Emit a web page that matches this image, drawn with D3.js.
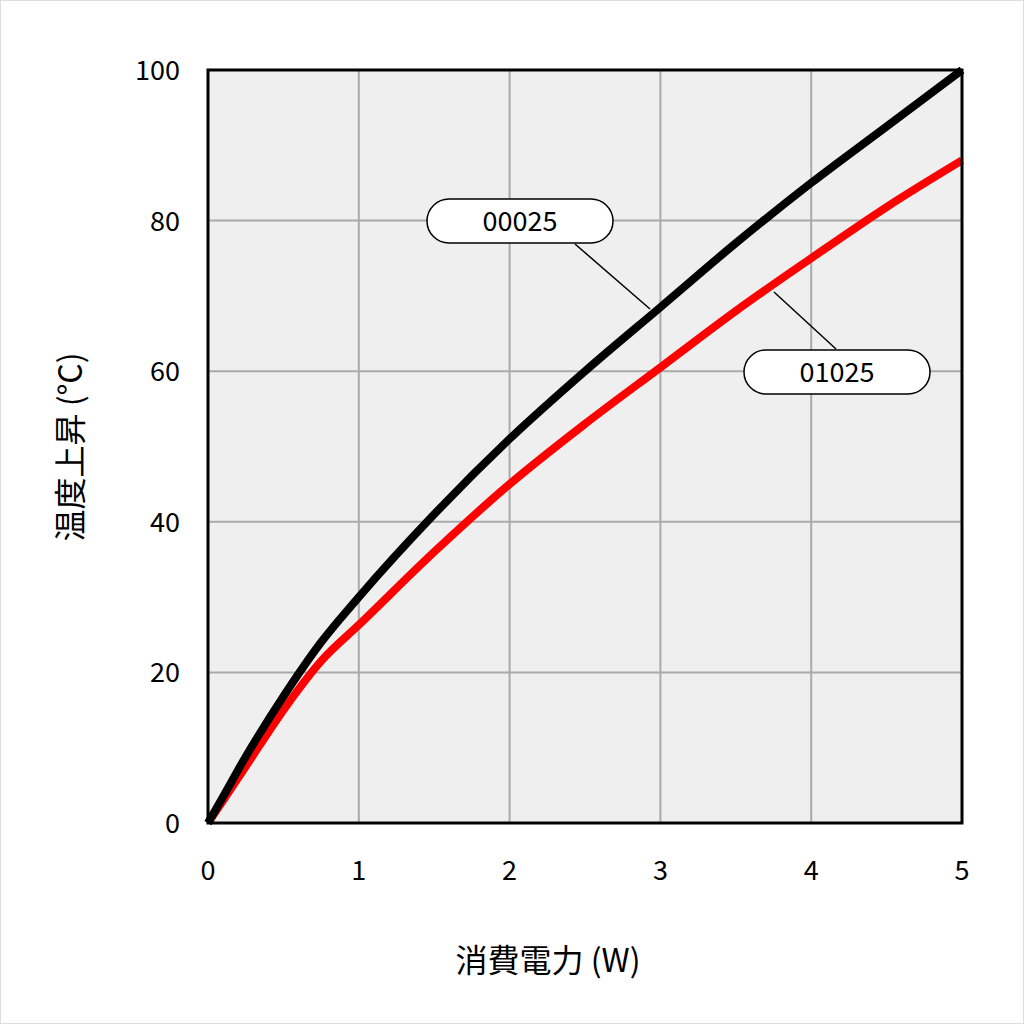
<!DOCTYPE html><html><head><meta charset="utf-8"><script src="https://cdn.jsdelivr.net/npm/d3@7"></script>
<style>body{margin:0;background:#fff}</style></head><body><svg id="c" width="1024" height="1024"></svg>
<script>
const xTicks=[0,1,2,3,4,5];
const yTicks=[0,20,40,60,80,100];
const blackX=[0,0.1,0.25,0.5,0.75,1,1.5,2,2.5,3,3.5,4,4.5,5];
const blackY=[0,3.5,8.8,16.8,24,30,41,51,60,68.5,77,85,92.5,100];
const redX=[0,0.1,0.25,0.5,0.75,1,1.5,2,2.5,3,3.5,4,4.5,5];
const redY=[0,3,7.5,15,21.5,26.3,36,45,53,60.5,68,75,81.8,88];
const labels=["00025","01025"];
const font="'Noto Sans CJK JP','Noto Sans',sans-serif";
const svg=d3.select("#c");
svg.append("rect").attr("x",0.5).attr("y",0.5).attr("width",1023).attr("height",1023).attr("fill","#fff").attr("stroke","#ddd");
const x=d3.scaleLinear().domain([0,5]).range([208,962]);
const y=d3.scaleLinear().domain([0,100]).range([823,70]);
svg.append("rect").attr("x",208).attr("y",70).attr("width",754).attr("height",753).attr("fill","#efefef");
svg.selectAll(".gx").data(xTicks).join("line").attr("x1",d=>x(d)).attr("x2",d=>x(d)).attr("y1",70).attr("y2",823).attr("stroke","#aaa").attr("stroke-width",2);
svg.selectAll(".gy").data(yTicks).join("line").attr("y1",d=>y(d)).attr("y2",d=>y(d)).attr("x1",208).attr("x2",962).attr("stroke","#aaa").attr("stroke-width",2);
const line=d3.line().curve(d3.curveMonotoneX);
svg.append("path").attr("d",line(redX.map((v,i)=>[x(v),y(redY[i])]))).attr("fill","none").attr("stroke","#ff0000").attr("stroke-width",8);
svg.append("path").attr("d",line(blackX.map((v,i)=>[x(v),y(blackY[i])]))).attr("fill","none").attr("stroke","#000").attr("stroke-width",8);
svg.append("rect").attr("x",208).attr("y",70).attr("width",754).attr("height",753).attr("fill","none").attr("stroke","#000").attr("stroke-width",3);
svg.selectAll(".xt").data(xTicks).join("text").attr("x",d=>x(d)).attr("y",880).attr("text-anchor","middle").attr("font-family",font).attr("font-size",27).text(d=>d);
svg.selectAll(".yt").data(yTicks).join("text").attr("x",180).attr("y",d=>y(d)+10).attr("text-anchor","end").attr("font-family",font).attr("font-size",27).text(d=>d);
svg.append("text").attr("x",548).attr("y",972).attr("text-anchor","middle").attr("font-family",font).attr("font-size",32).text("消費電力 (W)");
svg.append("text").attr("transform","translate(82,447) rotate(-90)").attr("text-anchor","middle").attr("font-family",font).attr("font-size",32).text("温度上昇 (°C)");
// callouts
svg.append("line").attr("x1",575).attr("y1",244).attr("x2",650).attr("y2",309).attr("stroke","#000").attr("stroke-width",1.5);
svg.append("line").attr("x1",774).attr("y1",292).attr("x2",836).attr("y2",349).attr("stroke","#000").attr("stroke-width",1.5);
[[427,199,labels[0]],[744,350,labels[1]]].forEach(([bx,by,t])=>{
 svg.append("rect").attr("x",bx).attr("y",by).attr("width",186).attr("height",44).attr("rx",22).attr("fill","#fff").attr("stroke","#000").attr("stroke-width",1.5);
 svg.append("text").attr("x",bx+93).attr("y",by+32).attr("text-anchor","middle").attr("font-family",font).attr("font-size",27).text(t);
});
</script></body></html>
